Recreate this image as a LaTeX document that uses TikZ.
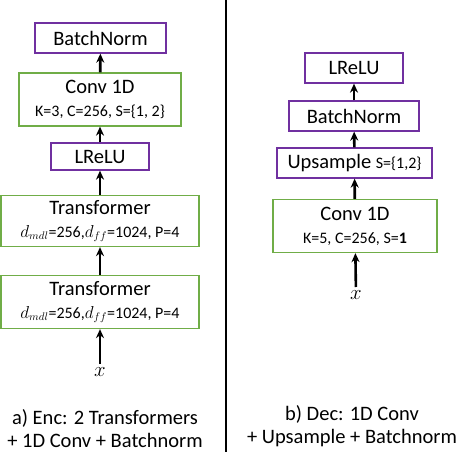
\documentclass[tikz,border=0pt]{standalone}
\usepackage{fontspec}
\setmainfont{Carlito}
\usepackage{xcolor}
\usetikzlibrary{arrows.meta, positioning}

\definecolor{boxpurple}{RGB}{112,48,160}
\definecolor{boxgreen}{RGB}{112,173,71}
\newcommand{\smalltext}{\fontsize{16}{18}\selectfont}

\begin{document}
\begin{tikzpicture}[
    x=1pt, y=-1pt,
    >=Stealth,
    font=\fontsize{20.5}{23}\selectfont,
    purplebox/.style={draw=boxpurple, line width=1.3pt, inner sep=0pt, align=center},
    greenbox/.style={draw=boxgreen, line width=1.3pt, inner sep=0pt, align=center},
    arrow/.style={-{Stealth[length=9pt, width=8pt]}, line width=2.6pt},
    caption/.style={align=center, inner sep=0pt, font=\fontsize{20.5}{23}\selectfont}
]
\useasboundingbox (0,0) rectangle (458,452);

% ---------- a) encoder ----------
\node[purplebox, minimum width=131, minimum height=30] (encbn) at (100.5,38) {BatchNorm};
\node[greenbox, minimum width=162, minimum height=53] (encconv) at (100,99.5)
    {Conv 1D\\{\smalltext K=3, C=256, S=\{1, 2\}}};
\node[purplebox, minimum width=98, minimum height=27] (enclrelu) at (100,156.5) {LReLU};
\node[greenbox, minimum width=198, minimum height=51] (enctrfa) at (100,221)
    {Transformer\\{\smalltext $d_{mdl}$=256,$d_{ff}$=1024, P=4}};
\node[greenbox, minimum width=198, minimum height=53] (enctrfb) at (100,302)
    {Transformer\\{\smalltext $d_{mdl}$=256,$d_{ff}$=1024, P=4}};
\node (encx) at (100,372) {$x$};

\draw[arrow] (encx) -- (enctrfb);
\draw[arrow] (enctrfb) -- (enctrfa);
\draw[arrow] (enctrfa) -- (enclrelu);
\draw[arrow] (enclrelu) -- (encconv);
\draw[arrow] (encconv) -- (encbn);

\node[caption] (enccap) at (105,429) {a) Enc: 2 Transformers\\+ 1D Conv + Batchnorm};

% ---------- divider ----------
\coordinate (divtop) at (226,0);
\coordinate (divbot) at (226,452);
\draw[line width=1.5pt] (divtop) -- (divbot);

% ---------- b) decoder ----------
\node[purplebox, minimum width=98, minimum height=30] (declrelu) at (354,68) {LReLU};
\node[purplebox, minimum width=130, minimum height=30] (decbn) at (354,116) {BatchNorm};
\node[purplebox, minimum width=155, minimum height=30] (decup) at (354.5,163)
    {Upsample {\smalltext S=\{1,2\}}};
\node[greenbox, minimum width=164, minimum height=53] (decconv) at (355,226)
    {Conv 1D\\{\smalltext K=5, C=256, S=\textbf{1}}};
\node (decx) at (356,295) {$x$};

\draw[arrow] (decx) -- (decconv);
\draw[arrow] (decconv) -- (decup);
\draw[arrow] (decup) -- (decbn);
\draw[arrow] (decbn) -- (declrelu);

\node[caption] (deccap) at (352,426) {b) Dec: 1D Conv\\+ Upsample + Batchnorm};

\end{tikzpicture}
\end{document}
